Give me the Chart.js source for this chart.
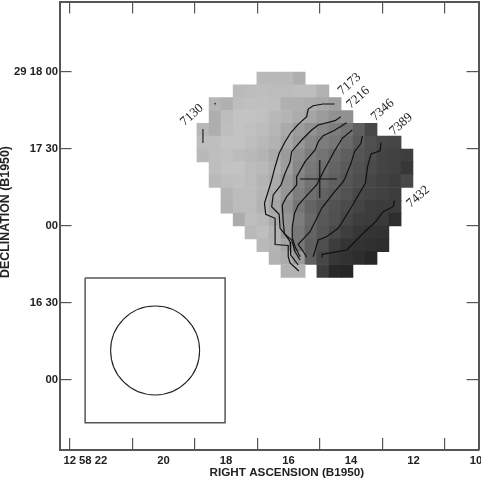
<!DOCTYPE html>
<html><head><meta charset="utf-8">
<style>html,body{margin:0;padding:0;background:#fff}canvas{display:block}</style>
<script src="https://cdn.jsdelivr.net/npm/chart.js@4"></script>
</head><body><canvas id="c" width="481" height="480"></canvas>
<script>
const _ = null;
const raTicks = [22, 20, 18, 16, 14, 12, 10];
const raTickLabels = ['12 58 22', '20', '18', '16', '14', '12', '10'];
const decTicks = [120, 90, 60, 30, 0];
const decTickLabels = ['29 18 00', '17 30', '00', '16 30', '00'];
const xTitle = 'RIGHT ASCENSION (B1950)';
const yTitle = 'DECLINATION (B1950)';

const raColumns = [18.74,18.35,17.97,17.58,17.20,16.82,16.43,16.05,15.66,15.28,14.90,14.51,14.13,13.74,13.36,12.98,12.59,12.21];
const decRows = [117.5,112.5,107.5,102.5,97.5,92.5,87.5,82.5,77.5,72.5,67.5,62.5,57.5,52.5,47.5,42.5];
const brightness = [
 [_,_,_,_,_,185,185,185,175,_,_,_,_,_,_,_,_,_],
 [_,_,_,186,188,190,188,188,190,190,178,_,_,_,_,_,_,_],
 [_,182,176,190,192,192,190,176,175,172,168,160,_,_,_,_,_,_],
 [_,174,188,195,195,192,185,180,172,165,155,145,145,_,_,_,_,_],
 [184,174,190,195,192,188,182,170,155,145,135,125,115,96,72,_,_,_],
 [190,190,195,195,190,185,178,165,150,135,125,118,105,90,80,72,70,_],
 [185,190,192,188,185,180,170,155,140,125,115,105,95,85,78,68,65,62],
 [_,190,195,195,188,185,175,158,135,120,110,100,90,82,75,68,65,55],
 [_,185,190,192,188,180,170,150,130,115,105,95,85,78,70,65,60,72],
 [_,_,180,188,188,180,170,150,125,110,98,90,82,72,68,65,60,_],
 [_,_,178,188,188,178,165,142,118,100,90,82,75,68,60,60,60,_],
 [_,_,_,172,190,185,170,150,125,105,88,80,70,62,60,58,45,_],
 [_,_,_,_,185,190,178,150,120,100,85,72,62,55,52,50,_,_],
 [_,_,_,_,_,185,180,165,120,95,78,60,52,50,48,45,_,_],
 [_,_,_,_,_,_,178,172,155,95,70,55,50,45,38,_,_,_],
 [_,_,_,_,_,_,_,178,178,_,62,40,38,_,_,_,_,_]
];

const contourA_ra  = [14.53,14.90,15.21,15.37,15.42,15.69,15.92,16.11,16.30,16.43,16.56,16.77,16.73,16.43,16.43,16.01,16.01,15.95,15.67];
const contourA_dec = [107.53,107.53,106.87,105.58,102.58,99.62,96.51,92.84,88.33,83.10,77.03,68.85,64.56,63.00,52.80,52.40,48.04,45.59,42.47];
const contourB_ra  = [14.33,14.51,15.05,15.26,15.58,15.90,15.95,16.11,16.24,16.49,16.54,16.30,16.27,16.11,15.95,15.93,15.69];
const contourB_dec = [102.58,101.03,99.35,97.40,93.51,88.95,85.05,80.53,75.98,72.08,67.52,64.56,59.11,56.77,53.88,48.70,44.81];
const contourC_ra  = [14.14,14.51,14.89,15.05,15.15,15.47,15.74,15.74,16.06,16.20,16.17,16.13,15.90,15.79,15.63];
const contourC_dec = [100.25,97.40,95.18,92.84,89.61,85.05,79.21,75.98,71.42,68.18,61.68,56.88,54.55,49.99,46.76];
const contourD_ra  = [13.96,14.28,14.51,14.89,15.10,15.42,15.69,15.81,15.88,15.88,15.79,15.63];
const contourD_dec = [97.40,94.17,89.61,81.16,75.98,71.81,68.18,64.95,59.73,55.21,51.94,48.04];
const contourE_ra  = [13.64,13.68,13.89,14.00,14.19,14.25,14.57,14.94,15.31,15.69,15.54,15.42];
const contourE_dec = [95.07,92.22,88.95,84.43,78.70,77.26,72.74,66.90,57.78,52.87,50.26,47.92];
const contourF_ra  = [13.04,13.07,13.36,13.47,13.54,13.98,14.41,14.78,15.05,15.21];
const contourF_dec = [92.46,89.34,88.05,83.10,76.75,67.52,59.11,55.83,54.55,48.04];
const contourG_ra  = [12.61,12.65,12.97,13.23,13.61,13.98,14.14,14.92,14.93];
const contourG_dec = [69.86,67.52,65.57,61.44,57.16,52.60,50.65,48.98,47.65];
const stub_ra  = [18.74,18.74];
const stub_dec = [97.79,92.34];
const crossH_ra = [15.63,14.45];
const crossH_dec = [78.31,78.31];
const crossV_ra = [15.00,15.00];
const crossV_dec = [85.72,70.91];
const beamBox_ra  = [22.51,18.03,18.03,22.51,22.51];
const beamBox_dec = [39.74,39.74,-16.63,-16.63,39.74];
const beam_ra = [20.27];
const beam_dec = [11.5];
const speck_ra = [18.35,12.24,14.90];
const speck_dec = [107.65,87.66,42.86];

const contourLabels = ['7130','7173','7216','7346','7389','7432'];
const labelRa  = [19.09,14.05,13.77,12.99,12.40,11.85];
const labelDec = [103.25,115.32,110.0,105.2,99.62,71.42];

const zip = (a, b) => a.map((v, i) => ({x: v, y: b[i]}));
const cells = [];
brightness.forEach((row, j) => row.forEach((v, k) => {
  if (v !== null) cells.push({x: raColumns[k], y: [decRows[j] - 2.5, decRows[j] + 2.5], v});
}));
const line = (ra, dec, color, width) => ({
  type: 'line', data: zip(ra, dec), borderColor: color, borderWidth: width,
  pointRadius: 0, tension: 0, fill: false, order: 1
});

const frame = '#555555';
const labelsPlugin = {
  id: 'contourText',
  afterDatasetsDraw(chart) {
    const {ctx, scales: {x, y}} = chart;
    ctx.save();
    ctx.fillStyle = '#222';
    ctx.font = "13px 'Liberation Serif'";
    ctx.textAlign = 'center';
    ctx.textBaseline = 'middle';
    contourLabels.forEach((t, i) => {
      ctx.save();
      ctx.translate(x.getPixelForValue(labelRa[i]), y.getPixelForValue(labelDec[i]));
      ctx.rotate(-42 * Math.PI / 180);
      ctx.fillText(t, 0, 0);
      ctx.restore();
    });
    ctx.restore();
  }
};
const fixed = (size, ticks) => ({
  afterFit(s) {
    if (s.isHorizontal()) s.height = size; else s.width = size;
    s.paddingLeft = s.paddingRight = s.paddingTop = s.paddingBottom = 0;
  },
  afterBuildTicks(s) { s.ticks = ticks.map(value => ({value})); }
});
const tickFont = {family: "'Liberation Sans'", size: 11.3, weight: 'bold'};
const grid = {drawOnChartArea: false, drawTicks: true, tickLength: -12, color: frame, lineWidth: 1.2};
const border = {display: true, color: frame, width: 2};
const xRange = {type: 'linear', min: 9.92, max: 23.33, reverse: true, offset: false};
const yRange = {type: 'linear', min: -27.27, max: 147.47};

new Chart(document.getElementById('c'), {
  type: 'bar',
  data: {datasets: [
    {type: 'bar', data: cells, order: 10, barThickness: 12, grouped: false,
     backgroundColor: ctx => { const v = ctx.raw ? ctx.raw.v : 0; return `rgb(${v},${v},${v})`; }},
    line(contourA_ra, contourA_dec, '#111', 1.2),
    line(contourB_ra, contourB_dec, '#111', 1.2),
    line(contourC_ra, contourC_dec, '#111', 1.2),
    line(contourD_ra, contourD_dec, '#111', 1.2),
    line(contourE_ra, contourE_dec, '#111', 1.2),
    line(contourF_ra, contourF_dec, '#111', 1.2),
    line(contourG_ra, contourG_dec, '#111', 1.2),
    line(stub_ra, stub_dec, '#222', 1.2),
    line(crossH_ra, crossH_dec, '#111', 1.2),
    line(crossV_ra, crossV_dec, '#111', 1.2),
    line(beamBox_ra, beamBox_dec, frame, 1.5),
    {type: 'line', data: zip(beam_ra, beam_dec), showLine: false, order: 1, pointStyle: 'circle',
     pointRadius: 44.5, pointBorderWidth: 1.1, pointBorderColor: '#222', pointBackgroundColor: 'rgba(0,0,0,0)'},
    {type: 'line', data: zip(speck_ra, speck_dec), showLine: false, order: 1,
     pointRadius: 0.9, pointBorderWidth: 0, pointBackgroundColor: '#333'}
  ]},
  options: {
    responsive: false, animation: false, devicePixelRatio: 1,
    layout: {autoPadding: false, padding: {left: 0, right: 2.5, top: 1.5, bottom: 0}},
    plugins: {legend: {display: false}, tooltip: {enabled: false}},
    events: [],
    scales: {
      x: {...xRange, position: 'bottom', ...fixed(30, raTicks), grid, border,
        ticks: {font: tickFont, color: '#222', padding: 16, maxRotation: 0, autoSkip: false,
          callback: (v) => { const i = raTicks.indexOf(v); return i === 0 ? raTickLabels[0] + ' '.repeat(10) : raTickLabels[i]; }},
        title: {display: true, text: ' '.repeat(11) + xTitle, color: '#222',
          font: {family: "'Liberation Sans'", size: 11.7, weight: 'bold'}, padding: {top: 0, bottom: 0}}},
      y: {...yRange, position: 'left', ...fixed(59.5, decTicks), grid, border,
        ticks: {font: tickFont, color: '#222', padding: 13.5, autoSkip: false,
          callback: (v) => decTickLabels[decTicks.indexOf(v)]},
        title: {display: true, text: ' '.repeat(8) + yTitle, color: '#222',
          font: {family: "'Liberation Sans'", size: 12.4, weight: 'bold', lineHeight: 0.85}, padding: {top: 0, bottom: 0}}},
      x2: {...xRange, axis: 'x', position: 'top', ...fixed(0, raTicks), grid, border,
        ticks: {display: false}},
      y2: {...yRange, axis: 'y', position: 'right', ...fixed(0, decTicks), grid, border,
        ticks: {display: false}}
    }
  },
  plugins: [labelsPlugin]
});
</script></body></html>
